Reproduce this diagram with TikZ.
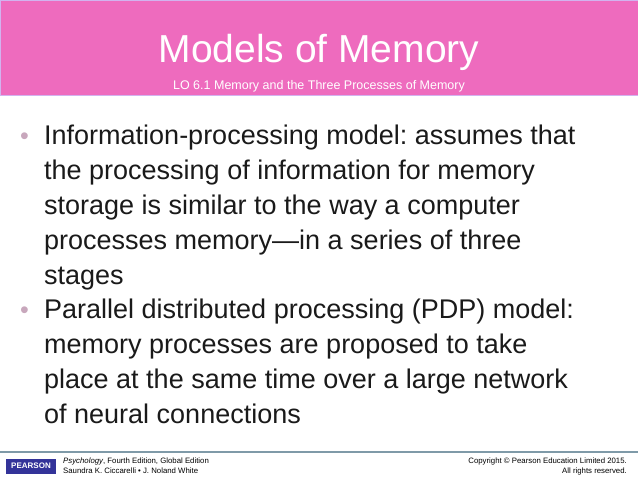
\documentclass[tikz,border=0pt]{standalone}
\usepackage{fontspec}
\setmainfont{Liberation Sans}
\frenchspacing
\definecolor{pink}{HTML}{EE6BBE}
\definecolor{bul}{HTML}{C8A7BC}
\definecolor{rule}{HTML}{7F9AA8}
\definecolor{txt}{HTML}{1A1A1A}
\begin{document}
\begin{tikzpicture}[x=1pt,y=-1pt,
 line/.style={anchor=base west,inner sep=0,font=\fontsize{27}{27}\selectfont,text=txt},
 bullet/.style={anchor=base west,inner sep=0,font=\fontsize{25}{25}\selectfont,text=bul},
 foot/.style={anchor=base west,inner sep=0,font=\fontsize{7.8}{8}\selectfont}]
\useasboundingbox (0,0) rectangle (638,479);
\fill[white] (0,0) rectangle (638,479);
\fill[pink,draw=pink!60!blue!40] (0,0) rectangle (638,95);
\node[inner sep=0,text=white,font=\fontsize{39}{39}\selectfont] (title) at (319,52) {Models of Memory};
\node[inner sep=0,text=white,font=\fontsize{12.5}{12.5}\selectfont] (sub) at (319,86) {LO 6.1 Memory and the Three Processes of Memory};
\node[bullet] (b1) at (20,144) {•};
\node[line] (l1) at (44,144) {Information-processing model: assumes that};
\node[line] (l2) at (44,179) {the processing of information for memory};
\node[line] (l3) at (44,214) {storage is similar to the way a computer};
\node[line] (l4) at (44,249) {processes memory—in a series of three};
\node[line] (l5) at (44,284) {stages};
\node[bullet] (b2) at (20,318) {•};
\node[line] (l6) at (44,318) {Parallel distributed processing (PDP) model:};
\node[line] (l7) at (44,353) {memory processes are proposed to take};
\node[line] (l8) at (44,388) {place at the same time over a large network};
\node[line] (l9) at (44,423) {of neural connections};
\draw[rule,line width=1.2pt] (0,452) -- (638,452);
\fill[blue!50!black!80] (6,459) rectangle (56,474);
\node[inner sep=0,text=white,font=\fontsize{8}{8}\selectfont\bfseries] (logo) at (31,466) {PEARSON};
\node[foot] (f1) at (63,463) {\textit{Psychology}, Fourth Edition, Global Edition};
\node[foot] (f2) at (63,473) {Saundra K. Ciccarelli • J. Noland White};
\node[foot,anchor=base east] (f3) at (627,463) {Copyright © Pearson Education Limited 2015.};
\node[foot,anchor=base east] (f4) at (627,473) {All rights reserved.};
\end{tikzpicture}
\end{document}
